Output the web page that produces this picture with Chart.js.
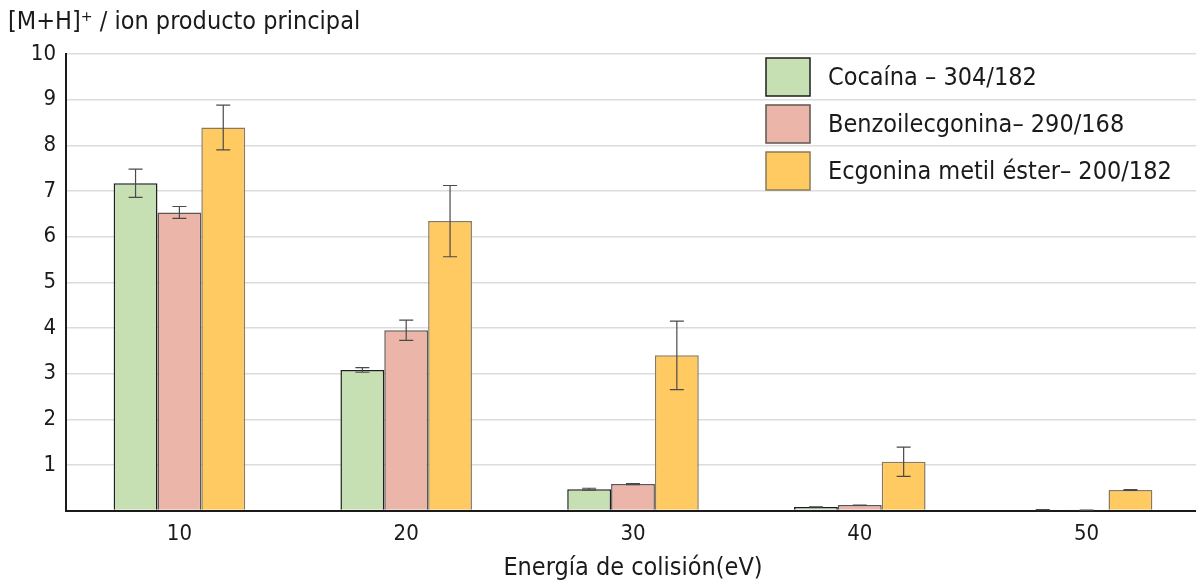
<!DOCTYPE html>
<html>
<head>
<meta charset="utf-8">
<script src="https://cdn.jsdelivr.net/npm/chart.js@4.4.1/dist/chart.umd.min.js"></script>
<style>
html,body{margin:0;padding:0;background:#fff;overflow:hidden;}
canvas{display:block;}
</style>
</head>
<body>
<canvas id="c" width="1200" height="588"></canvas>
<script>
const categories = ['10', '20', '30', '40', '50'];
const seriesLabels = ['Cocaína – 304/182', 'Benzoilecgonina– 290/168', 'Ecgonina metil éster– 200/182'];
const cocaina = [7.17, 3.08, 0.47, 0.08, 0.02];
const benzoilecgonina = [6.53, 3.95, 0.58, 0.12, 0.01];
const ecgonina = [8.39, 6.34, 3.40, 1.07, 0.45];
const cocainaErr = [0.31, 0.05, 0.02, 0.0, 0.0];
const benzoilecgoninaErr = [0.13, 0.22, 0.01, 0.0, 0.0];
const ecgoninaErr = [0.49, 0.78, 0.75, 0.32, 0.01];
const yTicks = [0,1,2,3,4,5,6,7,8,9,10];

const FONT = "'Liberation Sans Narrow', 'DejaVu Sans Condensed', Roboto, sans-serif";
const fills = ['#c6e0b4', '#ebb5a9', '#ffca62'];
const borders = ['#1e1e1e', '#5e5652', '#8a7a5a'];
const errs = [cocainaErr, benzoilecgoninaErr, ecgoninaErr];

const errorBars = {
  id: 'errorBars',
  afterDatasetsDraw(chart) {
    const ctx = chart.ctx, y = chart.scales.y;
    ctx.save();
    ctx.strokeStyle = '#4a4a4a';
    ctx.lineWidth = 1.2;
    chart.data.datasets.forEach((ds, di) => {
      const meta = chart.getDatasetMeta(di);
      meta.data.forEach((bar, i) => {
        const v = ds.data[i], e = errs[di][i];
        const yt = y.getPixelForValue(v + e), yb = y.getPixelForValue(v - e);
        const x = bar.x, cap = 7;
        ctx.beginPath();
        ctx.moveTo(x, yt); ctx.lineTo(x, yb);
        ctx.moveTo(x - cap, yt); ctx.lineTo(x + cap, yt);
        ctx.moveTo(x - cap, yb); ctx.lineTo(x + cap, yb);
        ctx.stroke();
      });
    });
    ctx.restore();
  }
};

const customLegend = {
  id: 'customLegend',
  afterDatasetsDraw(chart) {
    const ctx = chart.ctx;
    ctx.save();
    const x0 = 766, y0 = 58, bw = 44, bh = 38, pitch = 47;
    chart.data.datasets.forEach((ds, i) => {
      const yy = y0 + i * pitch;
      ctx.fillStyle = ds.backgroundColor;
      ctx.fillRect(x0, yy, bw, bh);
      ctx.strokeStyle = ds.borderColor;
      ctx.lineWidth = 1.5;
      ctx.strokeRect(x0, yy, bw, bh);
      ctx.fillStyle = '#1a1a1a';
      ctx.font = '25px ' + FONT;
      ctx.textBaseline = 'middle';
      ctx.textAlign = 'left';
      ctx.fillText(ds.label, 828, yy + bh / 2 + 1);
    });
    ctx.restore();
  }
};

new Chart(document.getElementById('c'), {
  type: 'bar',
  data: {
    labels: categories,
    datasets: [
      { label: seriesLabels[0], data: cocaina, backgroundColor: fills[0], borderColor: borders[0], borderWidth: 1.5 },
      { label: seriesLabels[1], data: benzoilecgonina, backgroundColor: fills[1], borderColor: borders[1], borderWidth: 1.5 },
      { label: seriesLabels[2], data: ecgonina, backgroundColor: fills[2], borderColor: borders[2], borderWidth: 1.5 }
    ]
  },
  options: {
    responsive: false,
    animation: false,
    layout: { padding: { left: 8, right: 0, top: 0, bottom: 0 } },
    datasets: { bar: { barPercentage: 1.0, categoryPercentage: 0.58 } },
    plugins: {
      legend: { display: false },
      tooltip: { enabled: false },
      title: {
        display: true,
        text: '[M+H]⁺ / ion producto principal',
        align: 'start',
        color: '#1a1a1a',
        font: { family: FONT, size: 25, weight: 'normal' },
        padding: { top: 7, bottom: 17 }
      }
    },
    scales: {
      x: {
        grid: { display: false, drawTicks: false, tickLength: 0 },
        border: { color: '#1a1a1a', width: 2 },
        ticks: { color: '#1a1a1a', font: { family: FONT, size: 22 }, padding: 10 },
        title: { display: true, text: 'Energía de colisión(eV)', color: '#1a1a1a', font: { family: FONT, size: 25 }, padding: { top: -4, bottom: 5 } }
      },
      y: {
        min: 0, max: 10,
        afterFit(scale) { scale.width = 58; },
        afterBuildTicks(scale) { scale.ticks = yTicks.map(v => ({ value: v })); },
        grid: { color: '#dcdcdc', lineWidth: 1.5, tickLength: 0 },
        border: { color: '#1a1a1a', width: 2 },
        ticks: {
          color: '#1a1a1a', font: { family: FONT, size: 22 }, padding: 10,
          callback: v => v === 0 ? '' : String(v)
        }
      }
    }
  },
  plugins: [errorBars, customLegend]
});
</script>
</body>
</html>
